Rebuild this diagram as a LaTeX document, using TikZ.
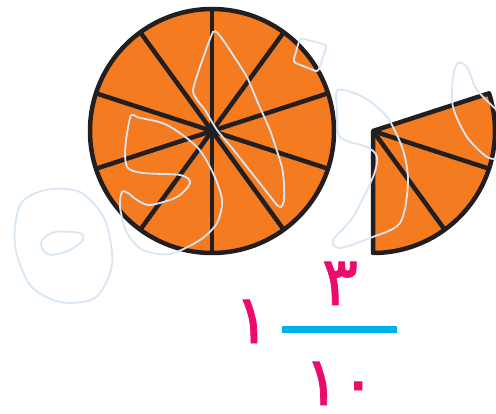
\documentclass[tikz,border=0pt]{standalone}
\usepackage{fontspec}
\newfontfamily\arabicfont[Script=Arabic,FakeBold=1.2]{DejaVu Sans}
\definecolor{pieorange}{HTML}{F47B20}
\definecolor{pieline}{HTML}{231F20}
\definecolor{faintblue}{HTML}{D8E6F3}
\definecolor{digitpink}{HTML}{EC0A6A}
\definecolor{barblue}{HTML}{00B0EC}
\begin{document}
\begin{tikzpicture}[x=1pt,y=1pt,
	pie/.style={fill=pieorange,draw=pieline,line width=4.5pt,line join=round},
	spoke/.style={draw=pieline,line width=4.5pt},
	faint/.style={draw=faintblue,line width=1.8pt},
	digit/.style={text=digitpink,font=\arabicfont\fontsize{68}{68}\selectfont,inner sep=0pt,text depth=0pt}]
	\useasboundingbox (0,0) rectangle (496,413);
	% whole pie
	\draw[pie] (212,282) circle[radius=122];
	\foreach \a in {18,54,...,342}{\draw[spoke] (212,282) -- ++(\a:122);}
	% three tenths
	\draw[pie] (373,282) -- ++(18:122) arc[start angle=18,end angle=-90,radius=122] -- cycle;
	\foreach \a in {-18,-54}{\draw[spoke] (373,282) -- ++(\a:122);}
	% faint marks
	\begin{scope}
		\clip (0,0) rectangle (496,413);
		\draw[faint] plot[smooth cycle] coordinates {(20,208) (45,223) (80,221) (105,193) (112,148) (95,115) (60,111) (30,128) (15,168)};
		\draw[faint] plot[smooth cycle] coordinates {(42,173) (55,181) (80,180) (83,173) (70,163) (50,158) (42,165)};
		\draw[faint] plot[smooth cycle,tension=0.5] coordinates {(130,295) (128,245) (180,238) (190,230) (177,216) (150,208) (137,213) (128,220) (122,221) (120,206) (127,180) (143,163) (170,159) (200,173) (217,190) (222,213) (213,240) (197,266) (167,288) (140,295)};
		\draw[faint] plot[smooth cycle,tension=0.3] coordinates {(213,381) (193,323) (205,303) (217,283) (232,265) (247,246) (262,227) (277,208) (281,206) (284,212) (284,230) (282,246) (276,265) (270,283) (258,310) (247,336) (235,355) (223,373)};
		\draw[faint,rounded corners=3pt] (300,375) -- (327,368) -- (318,341) -- (293,351) -- cycle;
		\draw[faint] plot[smooth cycle,tension=0.5] coordinates {(338,323) (363,316) (387,296) (403,263) (408,230) (400,190) (370,175) (340,165) (333,173) (353,196) (373,236) (377,256) (367,266) (340,276) (337,303)};
		\draw[faint] plot[smooth] coordinates {(500,300) (477,323) (467,346) (458,350) (453,336) (453,306) (467,276) (487,256) (500,254)};
	\end{scope}
	% mixed number
	\node[digit,anchor=base] (whole) at (252,70) {١};
	\node[digit,anchor=base] (num) at (340,108) {٣};
	\node[digit,anchor=base] (den) at (340,8) {١٠};
	\draw[barblue,line width=7pt] (282,83) -- (397,83);
\end{tikzpicture}
\end{document}
